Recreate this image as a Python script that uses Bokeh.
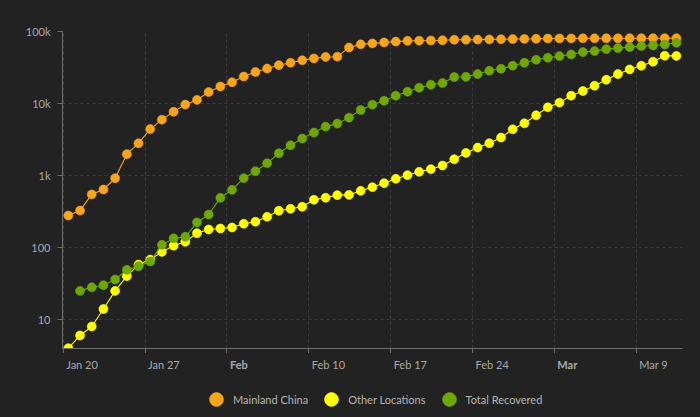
import numpy as np
import pandas as pd
from bokeh.plotting import figure
from bokeh.layouts import column
from bokeh.models import ColumnDataSource, FixedTicker, Legend, LegendItem, Range1d
from bokeh.core.properties import value
from bokeh.embed import file_html
from bokeh.resources import INLINE

# ---------------- data ----------------
series_names = ["Mainland China", "Other Locations", "Total Recovered"]

mainland_china = [278, 326, 547, 639, 916, 1979, 2800, 4409, 5970, 7678, 9658, 11221,
                  14411, 17238, 19693, 23680, 27409, 30553, 34075, 36778, 39790, 42306,
                  44327, 44699, 59832, 66292, 68347, 70446, 72364, 74139, 74546, 74999,
                  75472, 76922, 76938, 77152, 77660, 78065, 78498, 78824, 79251,
                  79826, 80026, 80151, 80270, 80409, 80552, 80651, 80695, 80735, 80754,
                  80778, 80793]

other_locations = [4, 6, 8, 14, 25, 40, 58, 68, 87, 106, 120, 158,
                   178, 184, 190, 214, 228, 267, 324, 345, 368, 460,
                   491, 534, 538, 613, 689, 783, 899, 1011, 1125, 1225,
                   1376, 1684, 2061, 2443, 2806, 3363, 4385, 5310, 6855,
                   8851, 10280, 12850, 14900, 17660, 21390, 25620, 29740, 33440, 38000,
                   46040, 45800]

total_recovered = [np.nan, 25, 28, 30, 36, 49, 55, 64, 109, 134, 141, 223,
                   287, 490, 633, 918, 1148, 1483, 2039, 2630, 3256, 3943,
                   4777, 5258, 6366, 8128, 9637, 10940, 12850, 14590, 16570, 18240,
                   19230, 23300, 23500, 25640, 28500, 30390, 33450, 36800, 40480,
                   43150, 45520, 48000, 51730, 53400, 56900, 58770, 60700, 62660, 64000,
                   66080, 69660]

start_date = "2020-01-20"
tick_dates = ["2020-01-20", "2020-01-27", "2020-02-03", "2020-02-10",
              "2020-02-17", "2020-02-24", "2020-03-02", "2020-03-09"]
tick_labels = ["Jan 20", "Jan 27", "Feb", "Feb 10", "Feb 17", "Feb 24", "Mar", "Mar 9"]
bold_tick_labels = ["Feb", "Mar"]

y_tick_values = [10, 100, 1000, 10000, 100000]
y_tick_labels = ["10", "100", "1k", "10k", "100k"]

colors = ["#f9a51a", "#ffff00", "#6fa800"]

# ---------------- build ----------------
BG = "#222222"
FONT = "Lato"
AXIS_COL = "#6e6e6e"
LABEL_COL = "#a9a9a9"
t0 = pd.Timestamp(start_date)
dates = pd.date_range(start_date, periods=len(mainland_china), freq="D")
x_days = ((dates - t0) / pd.Timedelta(days=1)).to_numpy() + 0.44
tick_pos = [int((pd.Timestamp(d) - t0) / pd.Timedelta(days=1)) for d in tick_dates]

x_range = Range1d(-0.06, 52.96)

# main chart (frame 31..348)
p = figure(width=700, height=353, y_axis_type="log",
           x_range=x_range, y_range=Range1d(3.96, 100000),
           output_backend="svg", toolbar_location=None,
           min_border_left=62, min_border_right=18, min_border_top=31, min_border_bottom=5,
           background_fill_color=BG, border_fill_color=BG, outline_line_color=None)
p.styles = {"background-color": BG}

for name, vals, col in zip(series_names, [mainland_china, other_locations, total_recovered], colors):
    src = ColumnDataSource(dict(x=x_days, y=np.array(vals, dtype=float)))
    p.line("x", "y", source=src, line_color=col, line_width=1.1)
    p.scatter("x", "y", source=src, size=9, fill_color=col, line_color=col, line_width=0.6)

p.xaxis.ticker = FixedTicker(ticks=tick_pos)
p.xaxis.major_label_text_font_size = "0px"
p.xaxis.major_label_text_color = None
p.xaxis.major_label_standoff = 0
p.yaxis.ticker = FixedTicker(ticks=y_tick_values)
p.yaxis.major_label_overrides = {v: lab for v, lab in zip(y_tick_values, y_tick_labels)}
p.yaxis.major_label_text_color = LABEL_COL
p.yaxis.major_label_text_font = FONT
p.yaxis.major_label_text_font_size = "11px"
p.yaxis.major_label_standoff = 7

for ax in (p.xaxis, p.yaxis):
    ax.axis_line_color = AXIS_COL
    ax.major_tick_line_color = AXIS_COL
    ax.minor_tick_line_color = None
    ax.major_tick_out = 5
    ax.major_tick_in = 0

for g in (p.xgrid, p.ygrid):
    g.grid_line_color = "#3c3c3c"
    g.grid_line_dash = "3 3"
    g.grid_line_width = 1

# bottom strip: x tick labels + legend (canvas rows 353..417)
p2 = figure(width=700, height=64, x_range=x_range, y_range=Range1d(0, 64),
            output_backend="svg", toolbar_location=None,
            min_border_left=62, min_border_right=18, min_border_top=0, min_border_bottom=0,
            background_fill_alpha=0, border_fill_alpha=0, outline_line_color=None)
p2.styles = {"background-color": BG}
p2.axis.visible = False
p2.grid.visible = False

lab_src = ColumnDataSource(dict(
    x=tick_pos,
    y=[60] * len(tick_pos),
    text=tick_labels,
    style=["bold" if t in bold_tick_labels else "normal" for t in tick_labels],
))
p2.text("x", "y", text="text", source=lab_src, text_font=value(FONT), text_font_size="11px",
        text_font_style="style", text_color=LABEL_COL, text_align="left",
        text_baseline="top", x_offset=3)

items = []
for name, col in zip(series_names, colors):
    r = p2.scatter(x=[np.nan], y=[np.nan], size=16, fill_color=col, line_color=col)
    items.append(LegendItem(label=name, renderers=[r]))

legend = Legend(items=items, orientation="horizontal", location=(137, -2),
                background_fill_alpha=0, border_line_color=None,
                label_text_color="#b4b4b4", label_text_font=FONT, label_text_font_size="11px",
                glyph_width=34, glyph_height=40, spacing=6, label_standoff=0,
                padding=0, margin=0)
p2.add_layout(legend, "center")

layout = column(p, p2, spacing=0)
layout.styles = {"background-color": BG}
open("out.html", "w").write(file_html(layout, INLINE))
